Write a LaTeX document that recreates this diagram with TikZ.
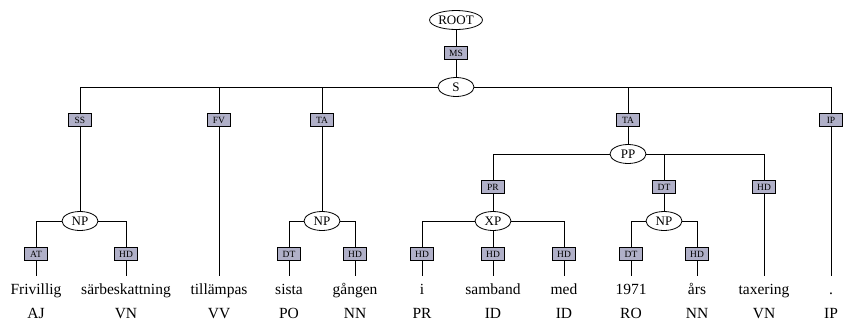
\documentclass[tikz,border=0pt]{standalone}
\usepackage{fontspec}
\setmainfont{Liberation Serif}
\usetikzlibrary{shapes.geometric}
\definecolor{edgefill}{RGB}{176,176,200}
\tikzset{
  cat/.style={ellipse, draw, line width=0.8pt, fill=white, minimum width=36pt,
    minimum height=19pt, inner sep=1pt, font=\fontsize{13}{13}\selectfont},
  fn/.style={draw, line width=0.6pt, fill=edgefill, minimum width=23pt,
    minimum height=13pt, inner sep=0pt, font=\fontsize{9.5}{9.5}\selectfont},
  word/.style={anchor=base, text height=12pt, inner ysep=6pt,
    font=\fontsize{15.5}{15.5}\selectfont},
  tagrow/.style={anchor=base, font=\fontsize{15.5}{15.5}\selectfont},
  br/.style={line width=0.9pt},
}

\begin{document}
\begin{tikzpicture}[x=1pt, y=-1pt]
  \useasboundingbox (0,0) rectangle (845,325);
  % leaves: words and their tags
  \foreach \x/\w/\p [count=\i] in {36/Frivillig/AJ, 126/särbeskattning/VN,
      219/tillämpas/VV, 289/sista/PO, 355/gången/NN, 422/i/PR, 493/samband/ID,
      564/med/ID, 631/1971/RO, 697/års/NN, 764/taxering/VN, 831/./IP} {
    \node[word] (w\i) at (\x,294) {\w};
    \node[tagrow] (p\i) at (\x,318) {\p};
  }
  % top
  \node[cat] (root) at (456,20) {ROOT};
  \node[fn] (ms) at (456,53) {MS};
  \node[cat] (s) at (456,87) {S};
  \node[fn] (ss) at (80,120) {SS};
  \node[fn] (fv) at (219,120) {FV};
  \node[fn] (ta1) at (322,120) {TA};
  \node[fn] (ta2) at (628,120) {TA};
  \node[fn] (ip) at (831,120) {IP};
  % first NP
  \node[cat] (np1) at (80,221) {NP};
  \node[fn] (at) at (36,254) {AT};
  \node[fn] (hd1) at (126,254) {HD};
  % second NP
  \node[cat] (np2) at (322,221) {NP};
  \node[fn] (dt1) at (289,254) {DT};
  \node[fn] (hd2) at (355,254) {HD};
  % PP
  \node[cat] (pp) at (628,154) {PP};
  \node[fn] (pr) at (493,187) {PR};
  \node[fn] (dt2) at (664,187) {DT};
  \node[fn] (hd3) at (764,187) {HD};
  \node[cat] (xp) at (493,221) {XP};
  \node[fn] (hd4) at (422,254) {HD};
  \node[fn] (hd5) at (493,254) {HD};
  \node[fn] (hd6) at (564,254) {HD};
  \node[cat] (np3) at (664,221) {NP};
  \node[fn] (dt3) at (631,254) {DT};
  \node[fn] (hd7) at (697,254) {HD};
  % branches
  \draw[br] (root) -- (ms) -- (s);
  \draw[br] (s) -| (ss);
  \draw[br] (s) -| (fv);
  \draw[br] (s) -| (ta1);
  \draw[br] (s) -| (ta2);
  \draw[br] (s) -| (ip);
  \draw[br] (ss) -- (np1);
  \draw[br] (fv) -- (w3);
  \draw[br] (ta1) -- (np2);
  \draw[br] (ta2) -- (pp);
  \draw[br] (ip) -- (w12);
  \draw[br] (np1) -| (at);
  \draw[br] (np1) -| (hd1);
  \draw[br] (at) -- (w1);
  \draw[br] (hd1) -- (w2);
  \draw[br] (np2) -| (dt1);
  \draw[br] (np2) -| (hd2);
  \draw[br] (dt1) -- (w4);
  \draw[br] (hd2) -- (w5);
  \draw[br] (pp) -| (pr);
  \draw[br] (pp) -| (dt2);
  \draw[br] (pp) -| (hd3);
  \draw[br] (pr) -- (xp);
  \draw[br] (dt2) -- (np3);
  \draw[br] (hd3) -- (w11);
  \draw[br] (xp) -| (hd4);
  \draw[br] (xp) -- (hd5);
  \draw[br] (xp) -| (hd6);
  \draw[br] (hd4) -- (w6);
  \draw[br] (hd5) -- (w7);
  \draw[br] (hd6) -- (w8);
  \draw[br] (np3) -| (dt3);
  \draw[br] (np3) -| (hd7);
  \draw[br] (dt3) -- (w9);
  \draw[br] (hd7) -- (w10);
\end{tikzpicture}
\end{document}
